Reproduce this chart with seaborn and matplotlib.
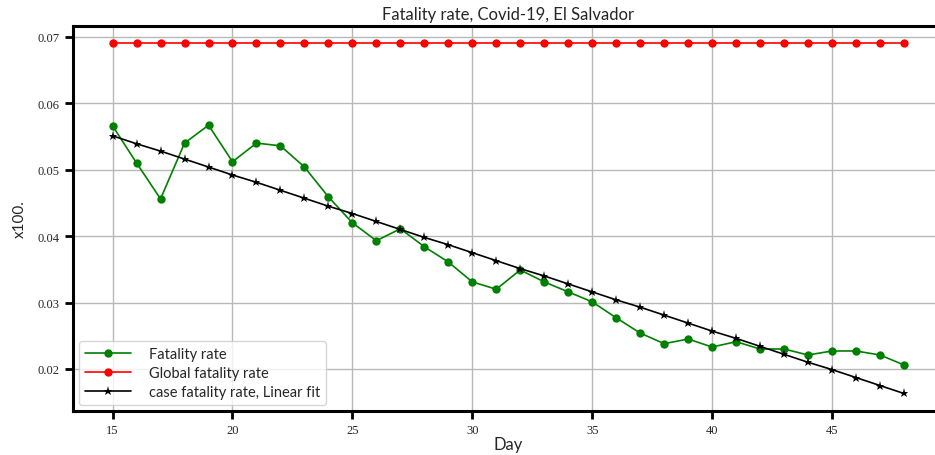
import numpy as np
import pandas as pd
import seaborn as sns
import matplotlib
matplotlib.use("Agg")
import matplotlib.pyplot as plt

days = list(range(15, 49))
fatality_rate = [0.0566, 0.0510, 0.0456, 0.0540, 0.0567, 0.0512, 0.0540, 0.0536,
                 0.0504, 0.0459, 0.0420, 0.0393, 0.0411, 0.0384, 0.0361, 0.0331,
                 0.0320, 0.0349, 0.0331, 0.0316, 0.0301, 0.0277, 0.0254, 0.0238,
                 0.0245, 0.0233, 0.0241, 0.0230, 0.0230, 0.0221, 0.0227, 0.0227,
                 0.0221, 0.0206]
global_rate = [0.069] * 34
linear_fit = [0.0551, 0.0539, 0.0528, 0.0516, 0.0504, 0.0492, 0.0481, 0.0469,
              0.0457, 0.0445, 0.0434, 0.0422, 0.0410, 0.0398, 0.0387, 0.0375,
              0.0363, 0.0351, 0.0340, 0.0328, 0.0316, 0.0304, 0.0293, 0.0281,
              0.0269, 0.0257, 0.0246, 0.0234, 0.0222, 0.0210, 0.0199, 0.0187,
              0.0175, 0.0163]
x_ticks = [15, 20, 25, 30, 35, 40, 45]
y_ticks = [0.02, 0.03, 0.04, 0.05, 0.06, 0.07]

sns.set_style("ticks")
plt.rcParams['font.family'] = ['Lato', 'DejaVu Sans']

fig = plt.figure(figsize=(9.35, 4.56), dpi=100)
ax = fig.add_axes([0.0781, 0.0965, 0.931, 0.8443])

df = pd.DataFrame({"Day": days, "fr": fatality_rate, "gr": global_rate, "lf": linear_fit})
sns.lineplot(data=df, x="Day", y="fr", ax=ax, color="green", marker="o",
             markersize=6, markeredgewidth=0, linewidth=1.2, label="Fatality rate")
sns.lineplot(data=df, x="Day", y="gr", ax=ax, color="red", marker="o",
             markersize=6, markeredgewidth=0, linewidth=1.2, label="Global fatality rate")
sns.lineplot(data=df, x="Day", y="lf", ax=ax, color="black", marker="*",
             markersize=6.5, markeredgewidth=0, linewidth=1.2,
             label="case fatality rate, Linear fit")

ax.set_xticks(x_ticks)
ax.set_yticks(y_ticks)
ax.set_xticklabels([str(t) for t in x_ticks], family="Liberation Serif", fontsize=9)
ax.set_yticklabels([f"{t:.2f}" for t in y_ticks], family="Liberation Serif", fontsize=9)
ax.grid(True, color="#b8b8b8", linewidth=1)
ax.set_axisbelow(True)
for s in ax.spines.values():
    s.set_linewidth(2.2)
    s.set_color("black")
ax.tick_params(axis="both", length=6, width=2, direction="out", color="black")
ax.set_xlabel("Day", fontsize=12, labelpad=0)
ax.set_ylabel("x100.", fontsize=11, labelpad=8)
ax.set_title("Fatality rate, Covid-19, El Salvador", fontsize=12, pad=5)
ax.legend(loc="lower left", fontsize=10.5, frameon=True, borderaxespad=0.4,
          handlelength=3.2, handletextpad=1.2, labelspacing=0.35, borderpad=0.4)

fig.savefig("out.png", dpi=100)
